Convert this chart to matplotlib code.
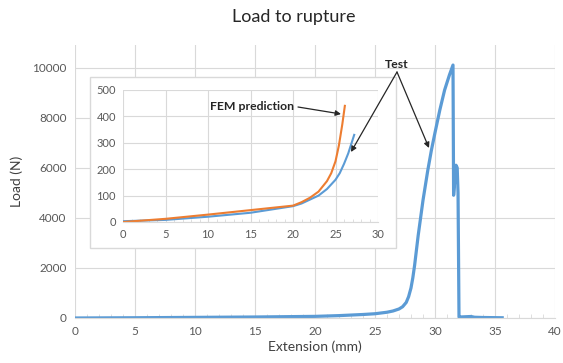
import matplotlib.pyplot as plt
from matplotlib.patches import Rectangle, FancyArrowPatch
from matplotlib.ticker import MultipleLocator

plt.rcParams['font.family'] = ['Lato', 'DejaVu Sans']

# --------------------------------------------------
# DATA
# --------------------------------------------------

# full test, load vs extension
test_x = [0, 5, 10, 15, 20, 22, 24, 25, 26, 26.5, 27, 27.3, 27.6, 27.8,
          28.0, 28.15, 28.3, 28.45, 28.6, 28.8, 29.0, 29.2, 29.4, 29.7,
          30.0, 30.4, 30.8, 31.2, 31.5, 31.55, 31.65, 31.75, 31.85, 31.92,
          32.0, 32.05, 33.0, 33.3, 34.0, 35.6]
test_y = [0, 10, 25, 40, 65, 95, 140, 170, 230, 280, 360, 450, 620, 850,
          1200, 1600, 2100, 2700, 3300, 4000, 4700, 5300, 5900, 6700,
          7400, 8300, 9100, 9700, 10100, 4900, 5500, 6100, 6000, 5000,
          40, 40, 60, 30, 20, 10]

# inset: first part of the test
ins_test_x = [0, 5, 10, 15, 20, 21, 22, 23, 24, 25, 25.5, 26, 26.5, 27.2]
ins_test_y = [3, 8, 20, 35, 60, 70, 85, 100, 125, 160, 185, 220, 260, 330]

# inset: FEM prediction
fem_x = [0, 5, 10, 15, 20, 21, 22, 23, 24, 24.5, 25, 25.4, 25.8, 26.1]
fem_y = [0, 12, 28, 45, 62, 75, 92, 115, 155, 185, 230, 290, 370, 440]

blue = '#5B9BD5'
orange = '#ED7D31'
grid_c = '#D9D9D9'
txt_c = '#595959'

W, H = 563, 363
fig = plt.figure(figsize=(W / 100, H / 100), dpi=100)

# --------------------------------------------------
# MAIN AXES
# --------------------------------------------------

ax = fig.add_axes([75 / W, 1 - 318 / H, 480 / W, 273 / H])
ax.plot(test_x, test_y, color=blue, lw=2.3, solid_joinstyle='round')
ax.set_xlim(0, 40)
ax.set_ylim(0, 10900)
ax.set_xticks(range(0, 41, 5))
ax.set_yticks(range(0, 10001, 2000))
ax.xaxis.set_minor_locator(MultipleLocator(1))
ax.grid(True, color=grid_c, lw=0.8)
ax.set_axisbelow(True)
for s in ['top', 'right', 'left']:
    ax.spines[s].set_visible(False)
ax.spines['bottom'].set_color(grid_c)
ax.tick_params(axis='both', labelsize=8.5, colors=txt_c, length=0, pad=6)
ax.tick_params(axis='x', which='minor', direction='in', length=3,
               color=grid_c)
ax.set_xlabel('Extension (mm)', fontsize=10, color='#404040', labelpad=2)
ax.set_ylabel('Load (N)', fontsize=10, color='#404040', labelpad=7)
fig.text(0.522, 1 - 17 / H, 'Load to rupture', ha='center', va='center',
         fontsize=13, color='#262626')

# --------------------------------------------------
# INSET
# --------------------------------------------------

box = Rectangle((90 / W, 1 - 248 / H), 306 / W, 171 / H,
                transform=fig.transFigure, facecolor='white',
                edgecolor=grid_c, lw=1, zorder=2)
fig.patches.append(box)

ax2 = fig.add_axes([123 / W, 1 - 222 / H, 255 / W, 132 / H], zorder=3)
ax2.plot(ins_test_x, ins_test_y, color=blue, lw=1.5)
ax2.plot(fem_x, fem_y, color=orange, lw=1.5)
ax2.set_xlim(0, 30)
ax2.set_ylim(0, 500)
ax2.set_xticks(range(0, 31, 5))
ax2.set_yticks(range(0, 501, 100))
ax2.xaxis.set_minor_locator(MultipleLocator(1))
ax2.grid(True, color=grid_c, lw=0.8)
ax2.set_axisbelow(True)
for s in ['top', 'right', 'left']:
    ax2.spines[s].set_visible(False)
ax2.spines['bottom'].set_color(grid_c)
ax2.tick_params(axis='both', labelsize=8, colors=txt_c, length=0, pad=5)
ax2.tick_params(axis='x', which='minor', direction='in', length=2.5,
                color=grid_c)

# --------------------------------------------------
# ANNOTATIONS
# --------------------------------------------------

arrow = dict(arrowstyle='-|>', color='#262626', lw=0.9,
             mutation_scale=8, shrinkA=0, shrinkB=0)

fig.text(252 / W, 1 - 107 / H, 'FEM prediction', ha='center', va='center',
         fontsize=8.8, fontweight='bold', color='#262626', zorder=5)
fig.add_artist(FancyArrowPatch(
    (298 / W, 1 - 107 / H), (341 / W, 1 - 114 / H),
    transform=fig.transFigure, zorder=6, **arrow))

fig.text(397 / W, 1 - 64 / H, 'Test', ha='center', va='center',
         fontsize=8.8, fontweight='bold', color='#262626', zorder=5)
for tip in [(351, 152), (429, 148)]:
    fig.add_artist(FancyArrowPatch(
        (397 / W, 1 - 72 / H), (tip[0] / W, 1 - tip[1] / H),
        transform=fig.transFigure, zorder=6, **arrow))

fig.savefig('out.png', dpi=100)
